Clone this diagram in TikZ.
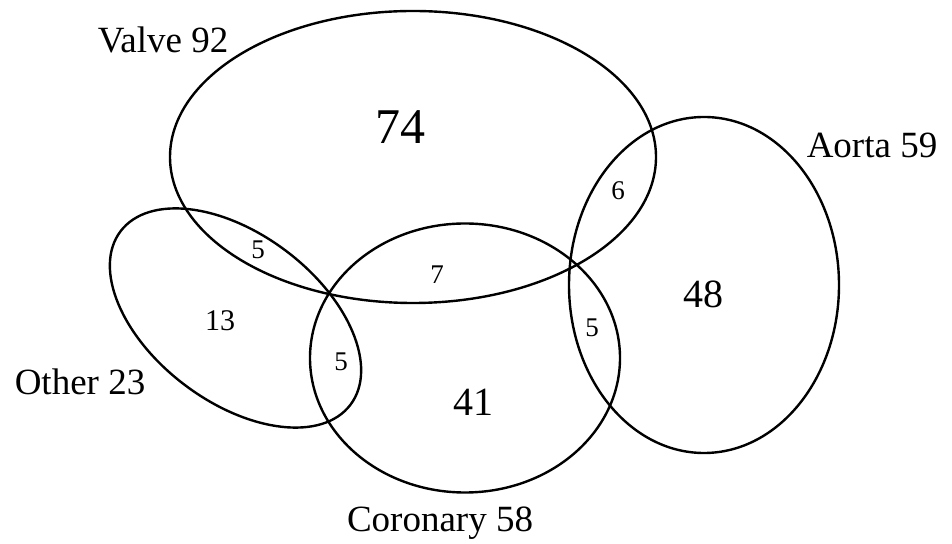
\documentclass[tikz,border=0pt]{standalone}
\usepackage{fontspec}
\setmainfont{Liberation Serif}
\usepackage{tikz}

\begin{document}
\begin{tikzpicture}[
 x=1pt,y=1pt,
 set/.style={draw,line width=2.4pt},
 setlabel/.style={anchor=base,inner sep=0pt,font=\fontsize{37}{44}\selectfont},
 bignum/.style={anchor=base,inner sep=0pt,font=\fontsize{40}{48}\selectfont},
 smallnum/.style={anchor=base,inner sep=0pt,font=\fontsize{27}{32}\selectfont}
]
\useasboundingbox (0,0) rectangle (952,543);
% the four sets
\draw[set] (413,386) ellipse [x radius=243,y radius=146];
\draw[set] (704,258) ellipse [x radius=135,y radius=168];
\draw[set] (465,185) ellipse [x radius=155,y radius=134.5];
\draw[set,rotate around={-37:(235.5,225)}] (235.5,225) ellipse [x radius=144,y radius=84];
% set names
\node[setlabel] (valve) at (163,490) {Valve 92};
\node[setlabel] (aorta) at (872,385) {Aorta 59};
\node[setlabel] (other) at (80,148) {Other 23};
\node[setlabel] (coronary) at (440,12) {Coronary 58};
% counts
\node[bignum,font=\fontsize{50}{60}\selectfont] (valveonly) at (400,399) {74};
\node[bignum] (aortaonly) at (703,235) {48};
\node[bignum] (coronaryonly) at (473,127) {41};
\node[smallnum,font=\fontsize{30}{36}\selectfont] (otheronly) at (220,212) {13};
\node[smallnum] (valveaorta) at (618,343) {6};
\node[smallnum] (valveother) at (258,284) {5};
\node[smallnum] (valvecoronary) at (437,259) {7};
\node[smallnum] (othercoronary) at (341,172) {5};
\node[smallnum] (coronaryaorta) at (592,206) {5};
\end{tikzpicture}
\end{document}
